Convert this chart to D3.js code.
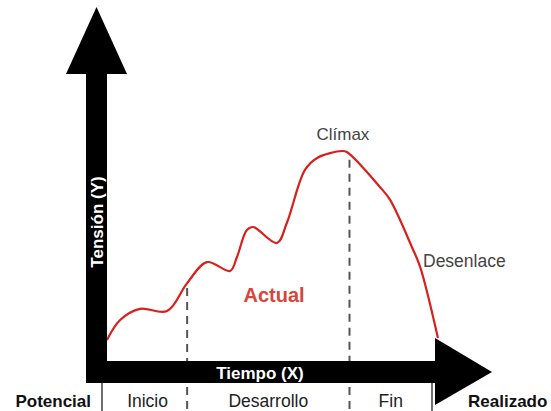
<!DOCTYPE html>
<html>
<head>
<meta charset="utf-8">
<script src="https://cdn.jsdelivr.net/npm/d3@7"></script>
<style>
  html, body { margin: 0; padding: 0; background: #fff; }
  svg { display: block; font-family: "Liberation Sans", Arial, sans-serif; }
</style>
</head>
<body>
<svg id="chart" width="551" height="411"></svg>
<script>
// ---- data ----
const timeValues    = [1.5, 5.5, 11.5, 19.7, 25.8, 31.8, 38.8, 40.9, 43.9, 45.8, 53.0, 56.0, 61.5, 65.2, 72.7, 74.2, 84.2, 87.3, 93.9, 96.4, 101.8];
const tensionValues = [10, 19.5, 24.8, 23.8, 37.1, 47.1, 42.9, 49.5, 62.4, 63.8, 56.2, 65.7, 91, 96.7, 100, 99.5, 82.9, 76.7, 54.3, 44.8, 11];
const phaseLabels   = ["Inicio", "Desarrollo", "Fin"];
const phaseBounds   = [0, 25.8, 75.0, 100];
const edgeLabels    = ["Potencial", "Realizado"];
const axisTitles    = ["Tiempo (X)", "Tensión (Y)"];
const annotations   = [
  { text: "Clímax",    t: 73.0, v: 107 },
  { text: "Desenlace", t: 97.5, v: 45 }
];
const seriesName = "Actual";

// ---- scales ----
const svg = d3.select("#chart");
const x = d3.scaleLinear().domain([0, 100]).range([102, 432]);
const y = d3.scaleLinear().domain([0, 100]).range([361, 151]);

const barTop = 361, barBot = 383, vLeft = 86, vRight = 107;
const font = "'Liberation Sans', Arial, sans-serif";

function curveAt(t) {
  for (let i = 0; i < timeValues.length - 1; i++) {
    if (t >= timeValues[i] && t <= timeValues[i + 1]) {
      const f = (t - timeValues[i]) / (timeValues[i + 1] - timeValues[i]);
      return tensionValues[i] + f * (tensionValues[i + 1] - tensionValues[i]);
    }
  }
  return 0;
}

// ---- dashed phase boundaries (inner) ----
const inner = phaseBounds.slice(1, -1);
svg.selectAll("line.dash-top").data(inner).enter().append("line")
  .attr("x1", d => x(d)).attr("x2", d => x(d))
  .attr("y1", d => y(curveAt(d)) + 5).attr("y2", barTop)
  .attr("stroke", "#555").attr("stroke-width", 2)
  .attr("stroke-dasharray", "8,6");
svg.selectAll("line.dash-bot").data(inner).enter().append("line")
  .attr("x1", d => x(d)).attr("x2", d => x(d))
  .attr("y1", barBot + 4).attr("y2", 411)
  .attr("stroke", "#555").attr("stroke-width", 2)
  .attr("stroke-dasharray", "8,6");

// ---- outer solid boundaries ----
svg.selectAll("line.edge").data([phaseBounds[0], phaseBounds[3]]).enter().append("line")
  .attr("x1", d => x(d)).attr("x2", d => x(d))
  .attr("y1", barBot).attr("y2", 411)
  .attr("stroke", "#111").attr("stroke-width", 1.2);

// ---- curve ----
const line = d3.line()
  .x((d, i) => x(timeValues[i]))
  .y(d => y(d))
  .curve(d3.curveCatmullRom.alpha(0.5));
svg.append("path")
  .datum(tensionValues)
  .attr("d", line)
  .attr("fill", "none")
  .attr("stroke", "#d8201c")
  .attr("stroke-width", 2.2);

// ---- axes (thick arrows) ----
svg.append("rect").attr("x", vLeft).attr("y", 72).attr("width", vRight - vLeft).attr("height", barBot - 72).attr("fill", "#000");
svg.append("path").attr("d", `M66,74 L96.5,7 L127,74 Z`).attr("fill", "#000");
svg.append("rect").attr("x", vLeft).attr("y", barTop).attr("width", 436 - vLeft).attr("height", barBot - barTop).attr("fill", "#000");
svg.append("path").attr("d", `M435,338 L492,372 L435,405 Z`).attr("fill", "#000");

// axis titles
svg.append("text").attr("x", 260).attr("y", 379)
  .attr("text-anchor", "middle").attr("fill", "#fff")
  .attr("font-weight", "bold").attr("font-size", 17).attr("font-family", font)
  .text(axisTitles[0]);
svg.append("text").attr("transform", "translate(103,222) rotate(-90)")
  .attr("text-anchor", "middle").attr("fill", "#fff")
  .attr("font-weight", "bold").attr("font-size", 17).attr("font-family", font)
  .text(axisTitles[1]);

// phase labels
svg.selectAll("text.phase").data(phaseLabels).enter().append("text")
  .attr("x", (d, i) => x((phaseBounds[i] + phaseBounds[i + 1]) / 2) + (i === 0 ? 3 : 0))
  .attr("y", 407)
  .attr("text-anchor", "middle").attr("fill", "#222")
  .attr("font-size", 17.5).attr("font-family", font)
  .text(d => d);

// edge labels
svg.append("text").attr("x", 91).attr("y", 407).attr("text-anchor", "end")
  .attr("font-weight", "bold").attr("font-size", 17).attr("fill", "#111").attr("font-family", font)
  .text(edgeLabels[0]);
svg.append("text").attr("x", 468).attr("y", 407).attr("text-anchor", "start")
  .attr("font-weight", "bold").attr("font-size", 17).attr("fill", "#111").attr("font-family", font)
  .text(edgeLabels[1]);

// annotations
svg.append("text").attr("x", x(annotations[0].t)).attr("y", y(annotations[0].v) + 4)
  .attr("text-anchor", "middle").attr("fill", "#444")
  .attr("font-size", 17).attr("font-family", font)
  .text(annotations[0].text);
svg.append("text").attr("x", 423).attr("y", 267)
  .attr("text-anchor", "start").attr("fill", "#444")
  .attr("font-size", 17.5).attr("font-family", font)
  .text(annotations[1].text);

// series label
svg.append("text").attr("x", 274).attr("y", 302)
  .attr("text-anchor", "middle").attr("fill", "#d9453c")
  .attr("font-weight", "bold").attr("font-size", 20).attr("font-family", font)
  .text(seriesName);
</script>
</body>
</html>
